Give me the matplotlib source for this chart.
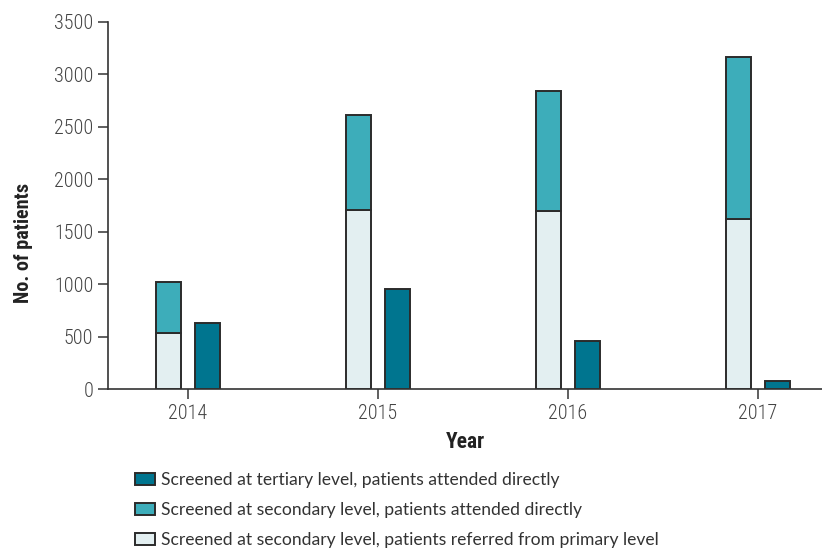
import matplotlib
matplotlib.use("Agg")
import matplotlib.pyplot as plt
import numpy as np
from matplotlib import font_manager as fm

years = ["2014", "2015", "2016", "2017"]
referred_primary = [538, 1708, 1693, 1626]
secondary_direct = [482, 901, 1144, 1534]
tertiary_direct = [628, 957, 462, 76]
yticks = [0, 500, 1000, 1500, 2000, 2500, 3000, 3500]

fonts = fm.fontManager.ttflist
names = {f.name for f in fonts}
cond_family = None
for cand in ["Liberation Sans Narrow", "Roboto Condensed", "Open Sans Condensed",
             "Noto Sans Condensed", "DejaVu Sans Condensed"]:
    if cand in names:
        cond_family = cand
        break
if cond_family is None:
    has_dv_cond = any(f.name == "DejaVu Sans" and f.stretch == "condensed" for f in fonts)
    cond_family = "DejaVu Sans"
    cond_stretch = "condensed" if has_dv_cond else "normal"
else:
    cond_stretch = "normal"
legend_family = "Lato" if "Lato" in names else "DejaVu Sans"

plt.rcParams['font.family'] = [cond_family, 'DejaVu Sans']
plt.rcParams['font.stretch'] = cond_stretch

c_ter = "#00758F"
c_sec = "#3DADBA"
c_pri = "#E3EFF1"
edge = "#2b2b2b"

fig = plt.figure(figsize=(8.22, 5.5), dpi=100)
ax = fig.add_axes([108/822, 1-389.3/550, 1-108/822, (389.3-21.7)/550])

x = np.arange(len(years))
w = 0.13
off = 0.1025
b1 = ax.bar(x - off, referred_primary, w, color=c_pri, edgecolor=edge, linewidth=1.4,
            label="Screened at secondary level, patients referred from primary level")
b2 = ax.bar(x - off, secondary_direct, w, bottom=referred_primary, color=c_sec, edgecolor=edge,
            linewidth=1.4, label="Screened at secondary level, patients attended directly")
b3 = ax.bar(x + off, tertiary_direct, w, color=c_ter, edgecolor=edge, linewidth=1.4,
            label="Screened at tertiary level, patients attended directly")

ax.set_xlim(-0.421, 3.337)
ax.set_ylim(0, 3500)
ax.set_yticks(yticks)
ax.set_xticks(x)
ax.set_xticklabels(years)
for s in ["top", "right"]:
    ax.spines[s].set_visible(False)
for s in ["left", "bottom"]:
    ax.spines[s].set_color("#333333")
    ax.spines[s].set_linewidth(1.2)
ax.tick_params(axis="both", length=7.5, width=1.2, color="#444444", labelsize=14.5,
               labelcolor="#444444", pad=3)
for lab in ax.get_xticklabels() + ax.get_yticklabels():
    lab.set_fontweight("light")
ax.set_ylabel("No. of patients", fontsize=14.5, fontweight="bold", color="#222222")
ax.yaxis.set_label_coords((33 - 108) / 714, (389.3 - 243) / 367.6)
ax.set_xlabel("Year", fontsize=15.5, fontweight="bold", color="#222222", labelpad=6)

leg = fig.legend(handles=[b3, b2, b1], loc="upper left", bbox_to_anchor=(135/822, 1-472/550),
                 frameon=False, prop={"family": [legend_family, "DejaVu Sans"], "size": 12.6,
                                      "stretch": "normal"},
                 handlelength=1.15, handleheight=0.7,
                 handletextpad=0.35, labelspacing=0.8, borderaxespad=0, borderpad=0)
for t in leg.get_texts():
    t.set_color("#333333")

fig.savefig("out.png", dpi=100)
